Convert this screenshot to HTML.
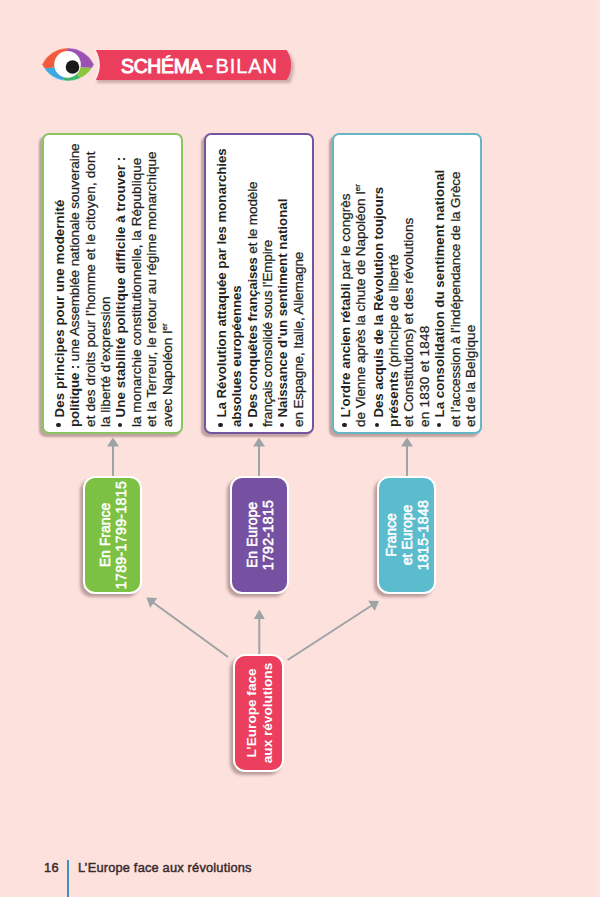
<!DOCTYPE html>
<html><head><meta charset="utf-8">
<style>
html,body{margin:0;padding:0;}
body{width:600px;height:897px;position:relative;overflow:hidden;background:#fde1dd;font-family:"Liberation Sans",sans-serif;color:#231f20;}
.abs{position:absolute;}
.big{position:absolute;top:133px;height:297px;background:#fff;border:2px solid;border-radius:7px;box-shadow:-3px 3px 2px rgba(100,70,70,0.4);}
.rot{position:absolute;left:0;top:0;transform-origin:0 0;}
.big .rot{-webkit-text-stroke:0.25px #231f20;font-size:13.55px;line-height:15.4px;white-space:nowrap;padding-left:5px;box-sizing:border-box;}
.sm{position:absolute;border:2.5px solid #fff;border-radius:12px;box-shadow:-3px 3px 3px rgba(95,65,65,0.42);color:#fff;}
.sm .rot{display:flex;align-items:center;justify-content:center;text-align:center;font-weight:normal;-webkit-text-stroke:0.55px #fff;font-size:14px;line-height:16px;white-space:nowrap;}
b{font-weight:bold;}
.big b{font-size:13.25px;-webkit-text-stroke:0;}
.bl{display:inline-block;width:4.4px;height:4.4px;border-radius:50%;background:#231f20;vertical-align:3.1px;margin-right:1.4px;}
.d{letter-spacing:0.4px;}
sup{font-size:8px;vertical-align:0;position:relative;top:-5px;}
</style></head><body>

<!-- header -->
<svg class="abs" style="left:0;top:0" width="320" height="110" viewBox="0 0 320 110">
  <defs>
    <clipPath id="almond"><path d="M42,64.5 A28.7,28.7 0 0 1 94,64.5 A28.7,28.7 0 0 1 42,64.5 Z"/></clipPath>
    <filter id="bs" x="-10%" y="-30%" width="130%" height="180%"><feGaussianBlur stdDeviation="1.5"/></filter>
  </defs>
  <path d="M97,53 L289,53 Q294,60 294,68 Q293,76 290,83 L97,83 Z" fill="rgba(110,70,70,0.35)" filter="url(#bs)"/>
  <path d="M96,50 L286.5,50 Q291,56 291,65 Q291,74 286.5,80 L96,80 Z" fill="#ea3e5c"/>
  <circle cx="68" cy="65" r="31" fill="#fde1dd"/>
  <path d="M95,50.5 A31,31 0 0 1 95,79.5" stroke="#fde9e6" stroke-width="2" fill="none"/>
  <g clip-path="url(#almond)">
    <polygon points="68,40 30,40 30,69.5 55,67.5 68,64.5" fill="#f15a3a"/>
    <polygon points="30,69.5 55,67.5 68,64.5 60.5,90 30,90" fill="#3ea8e0"/>
    <polygon points="60.5,90 68,64.5 80,77.5 92,90" fill="#3fb56e"/>
    <polygon points="92,90 80,77.5 68,64.5 79.2,67 100,68.5 100,90" fill="#8cc63e"/>
    <polygon points="68,40 100,40 100,68.5 79.2,67 68,64.5" fill="#9b51b4"/>
  </g>
  <path d="M42,64.5 A28.7,28.7 0 0 1 94,64.5 A28.7,28.7 0 0 1 42,64.5 Z" fill="none" stroke="#fdeeee" stroke-opacity="0.6" stroke-width="0.8"/>
  <circle cx="67.5" cy="64.4" r="13.3" fill="#fff"/>
  <circle cx="72.5" cy="67" r="6.8" fill="#1a1a1a"/>
  <text x="121" y="72.5" font-family="Liberation Sans" font-size="19.4" fill="#fff" stroke="#fff" stroke-width="1.0" letter-spacing="-0.3">SCHÉMA</text>
  <rect x="206.3" y="65.2" width="6.3" height="2.2" fill="#fff"/>
  <text x="215.5" y="72.5" font-family="Liberation Sans" font-size="20" fill="#fff" stroke="#fff" stroke-width="0.35" letter-spacing="0.9">BILAN</text>
</svg>

<!-- big boxes -->
<div class="big" style="left:42px;width:137px;border-color:#8bc461;">
  <div class="rot" style="width:297px;height:137px;transform:translateY(297px) rotate(-90deg);padding-top:7.7px;">
<div class="ln" style="letter-spacing:0.091px"><b><i class="bl"></i> Des principes pour une modernité</b></div>
<div class="ln" style="letter-spacing:-0.109px"><b>politique :</b> une Assemblée nationale souveraine</div>
<div class="ln" style="letter-spacing:0.130px">et des droits pour l’homme et le citoyen, dont</div>
<div class="ln" style="letter-spacing:-0.022px">la liberté d’expression</div>
<div class="ln" style="letter-spacing:0.098px"><b><i class="bl"></i> Une stabilité politique difficile à trouver :</b></div>
<div class="ln" style="letter-spacing:0.011px">la monarchie constitutionnelle, la République</div>
<div class="ln" style="letter-spacing:0.022px">et la Terreur, le retour au régime monarchique</div>
<div class="ln" style="letter-spacing:-0.088px">avec Napoléon I<sup>er</sup></div>
  </div>
</div>

<div class="big" style="left:204px;width:106px;border-color:#7554a0;">
  <div class="rot" style="width:297px;height:106px;transform:translateY(297px) rotate(-90deg);padding-top:7.7px;">
<div class="ln" style="letter-spacing:-0.024px"><b><i class="bl"></i> La Révolution attaquée par les monarchies</b></div>
<div class="ln" style="letter-spacing:-0.100px"><b>absolues européennes</b></div>
<div class="ln" style="letter-spacing:-0.132px"><b><i class="bl"></i> Des conquêtes françaises</b> et le modèle</div>
<div class="ln" style="letter-spacing:-0.200px">français consolidé sous l’Empire</div>
<div class="ln" style="letter-spacing:0.029px"><b><i class="bl"></i> Naissance d’un sentiment national</b></div>
<div class="ln" style="letter-spacing:-0.138px">en Espagne, Italie, Allemagne</div>
  </div>
</div>

<div class="big" style="left:332px;width:146px;border-color:#67b6c6;">
  <div class="rot" style="width:297px;height:146px;transform:translateY(297px) rotate(-90deg);padding-top:3.7px;">
<div class="ln" style="letter-spacing:0.013px"><b><i class="bl"></i> L’ordre ancien rétabli</b> par le congrès</div>
<div class="ln" style="letter-spacing:-0.050px">de Vienne après la chute de Napoléon I<sup>er</sup></div>
<div class="ln" style="letter-spacing:-0.054px"><b><i class="bl"></i> Des acquis de la Révolution toujours</b></div>
<div class="ln" style="letter-spacing:0.083px"><b>présents</b> (principe de liberté</div>
<div class="ln" style="letter-spacing:0.042px">et Constitutions) et des révolutions</div>
<div class="ln" style="letter-spacing:0.240px">en 1830 et 1848</div>
<div class="ln" style="letter-spacing:0.051px"><b><i class="bl"></i> La consolidation du sentiment national</b></div>
<div class="ln" style="letter-spacing:-0.140px">et l’accession à l’indépendance de la Grèce</div>
<div class="ln" style="letter-spacing:0.082px">et de la Belgique</div>
  </div>
</div>

<!-- arrows -->
<svg class="abs" style="left:0;top:0" width="600" height="897">
  <g stroke="#9ea3a6" stroke-width="2" fill="none">
    <line x1="113" y1="476" x2="113" y2="444"/>
    <line x1="259" y1="476" x2="259" y2="444"/>
    <line x1="407" y1="476" x2="407" y2="444"/>
    <line x1="259.3" y1="654" x2="259.3" y2="616"/>
    <line x1="228" y1="657" x2="151" y2="601"/>
    <line x1="287.6" y1="660" x2="374" y2="604"/>
  </g>
  <g fill="#9ea3a6">
    <polygon points="113,437.5 107,446.5 119,446.5"/>
    <polygon points="259,437.5 253,446.5 265,446.5"/>
    <polygon points="407,437.5 401,446.5 413,446.5"/>
    <polygon points="259.3,609.5 253.8,619 264.8,619"/>
  </g>
  <polygon points="0,0 -9,-6 -9,6" fill="#9ea3a6" transform="translate(146.4,597.6) rotate(216)"/>
  <polygon points="0,0 -9,-6 -9,6" fill="#9ea3a6" transform="translate(379,601) rotate(-33)"/>
</svg>

<!-- small boxes -->
<div class="sm" style="left:83px;top:476px;width:55px;height:114px;background:#7cc143;">
  <div class="rot" style="width:114px;height:55px;transform:translateY(114px) rotate(-90deg);"><div>En France<br><span class="d">1789-1799-1815</span></div></div>
</div>
<div class="sm" style="left:229.5px;top:476px;width:55px;height:114px;background:#7651a1;">
  <div class="rot" style="width:114px;height:55px;transform:translateY(114px) rotate(-90deg);"><div>En Europe<br><span class="d">1792-1815</span></div></div>
</div>
<div class="sm" style="left:377px;top:476px;width:55px;height:114px;background:#5bbccd;">
  <div class="rot" style="width:114px;height:55px;transform:translateY(114px) rotate(-90deg);"><div>France<br>et Europe<br><span class="d">1815-1848</span></div></div>
</div>
<div class="sm" style="left:233px;top:654px;width:47px;height:114px;background:#eb3f5d;">
  <div class="rot" style="width:114px;height:47px;transform:translateY(114px) rotate(-90deg);font-size:13.6px;font-weight:bold;-webkit-text-stroke:0;padding-top:2px;box-sizing:border-box;"><div>L’Europe face<br>aux révolutions</div></div>
</div>

<div class="abs" style="left:594px;top:0;width:6px;height:897px;background:linear-gradient(to right,rgba(252,228,222,0),#fce5df);"></div>
<!-- footer -->
<div class="abs" style="left:44px;top:860px;font-size:12.8px;font-weight:normal;-webkit-text-stroke:0.45px #3a2b2b;letter-spacing:0.3px;color:#3a2b2b;">16</div>
<div class="abs" style="left:66.6px;top:860px;width:2px;height:37px;background:#3f8fc0;"></div>
<div class="abs" style="left:78px;top:860px;font-size:12.8px;font-weight:normal;-webkit-text-stroke:0.45px #3a2b2b;letter-spacing:0.2px;color:#3a2b2b;white-space:nowrap;">L’Europe face aux révolutions</div>

</body></html>
